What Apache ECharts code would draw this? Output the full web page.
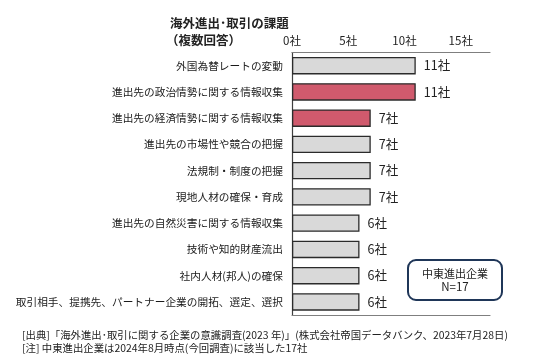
<!DOCTYPE html>
<html><head><meta charset="utf-8">
<script src="https://cdn.jsdelivr.net/npm/echarts@6/dist/echarts.min.js"></script>
<style>html,body{margin:0;padding:0;background:#fff}#c{width:536px;height:364px}</style>
</head><body><div id="c"></div>
<script>
const categories = [
  '外国為替レートの変動',
  '進出先の政治情勢に関する情報収集',
  '進出先の経済情勢に関する情報収集',
  '進出先の市場性や競合の把握',
  '法規制・制度の把握',
  '現地人材の確保・育成',
  '進出先の自然災害に関する情報収集',
  '技術や知的財産流出',
  '社内人材(邦人)の確保',
  '取引相手、提携先、パートナー企業の開拓、選定、選択'
];
const values = [11, 11, 7, 7, 7, 7, 6, 6, 6, 6];
const highlighted = [false, true, true, false, false, false, false, false, false, false];
const tickUnit = '社';
const titleLines = ['海外進出･取引の課題', '（複数回答）'];
const noteBox = ['中東進出企業', 'N=17'];
const footnotes = [
  '[出典]「海外進出･取引に関する企業の意識調査(2023 年)」(株式会社帝国データバンク、2023年7月28日)',
  '[注] 中東進出企業は2024年8月時点(今回調査)に該当した17社'
];

const FONT = '"Noto Sans CJK JP", sans-serif';
const chart = echarts.init(document.getElementById('c'), null, {renderer: 'canvas'});
chart.setOption({
  animation: false,
  textStyle: {fontFamily: FONT},
  grid: {left: 292, top: 52.5, right: 46, bottom: 49, containLabel: false},
  xAxis: [{
    type: 'value', position: 'top', min: 0, max: 17.6, interval: 5,
    axisLine: {show: true, lineStyle: {color: '#7f7f7f', width: 1.2}},
    axisTick: {show: false}, splitLine: {show: false},
    axisLabel: {color: '#222', fontSize: 11.5, fontFamily: FONT, margin: 6, showMaxLabel: false,
      formatter: v => v + tickUnit}
  }, {
    type: 'value', position: 'bottom', min: 0, max: 17.6, interval: 5,
    axisLine: {show: true, onZero: false, lineStyle: {color: '#7f7f7f', width: 1.2}},
    axisTick: {show: false}, splitLine: {show: false}, axisLabel: {show: false}
  }],
  yAxis: {
    type: 'category', data: categories, inverse: true,
    axisLine: {show: true, lineStyle: {color: '#404040', width: 1.2}},
    axisTick: {show: false},
    axisLabel: {color: '#1a1a1a', fontSize: 10.7, fontFamily: FONT, margin: 9}
  },
  series: [{
    type: 'bar', xAxisIndex: 0,
    data: values.map((v, i) => ({value: v, itemStyle: {color: highlighted[i] ? '#d05a6d' : '#d9d9d9'}})),
    barWidth: 17.5,
    itemStyle: {borderColor: '#2b2b2b', borderWidth: 1.3},
    label: {show: true, position: 'right', distance: 8, color: '#222', fontSize: 12.5, fontFamily: FONT,
      formatter: p => p.value + tickUnit}
  }],
  graphic: [
    {type: 'text', left: 170, top: 17, style: {text: titleLines[0], font: 'bold 12.5px ' + FONT, fill: '#222'}},
    {type: 'text', left: 166, top: 34, style: {text: titleLines[1], font: 'bold 12.5px ' + FONT, fill: '#222'}},
    {type: 'rect', shape: {x: 408, y: 260, width: 94, height: 40, r: 8},
      style: {fill: '#fff', stroke: '#1f3658', lineWidth: 2}},
    {type: 'text', x: 455, y: 274, style: {text: noteBox[0], font: '11px ' + FONT, fill: '#222', align: 'center', verticalAlign: 'middle'}},
    {type: 'text', x: 455, y: 286.5, style: {text: noteBox[1], font: '11.5px ' + FONT, fill: '#222', align: 'center', verticalAlign: 'middle'}},
    {type: 'text', x: 22, y: 335, style: {text: footnotes[0], font: '10.4px ' + FONT, fill: '#222', verticalAlign: 'middle'}},
    {type: 'text', x: 22, y: 348, style: {text: footnotes[1], font: '10.4px ' + FONT, fill: '#222', verticalAlign: 'middle'}}
  ]
});
</script></body></html>
